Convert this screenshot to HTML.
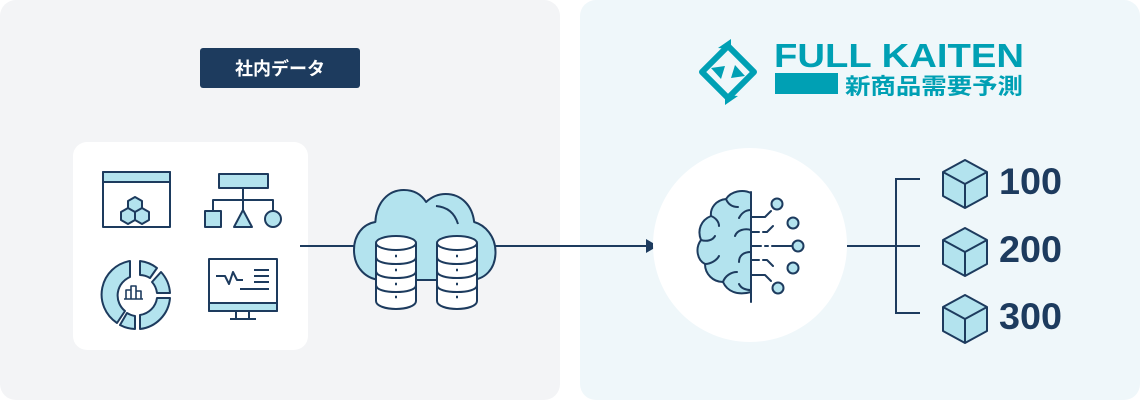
<!DOCTYPE html>
<html><head><meta charset="utf-8"><style>
html,body{margin:0;padding:0;background:#fff;}
svg{display:block}
text{font-family:"Liberation Sans","Noto Sans CJK JP",sans-serif;}
</style></head><body>
<svg width="1140" height="400" viewBox="0 0 1140 400" xmlns="http://www.w3.org/2000/svg">
<rect x="0" y="0" width="560" height="400" rx="16" fill="#f3f4f6"/>
<rect x="580" y="0" width="560" height="400" rx="16" fill="#eff7fa"/>
<rect x="200" y="48" width="160" height="40" rx="3" fill="#1d3b5e"/>
<text x="280" y="75" font-size="18" fill="#fff" text-anchor="middle" font-weight="bold">社内データ</text>
<rect x="73" y="142" width="235" height="208" rx="14" fill="#fff"/>
<g stroke="#1d3b5e" stroke-width="2" fill="#b3e3ee" stroke-linejoin="round">
 <rect x="103" y="172" width="67" height="55" fill="#fff"/>
 <rect x="103" y="172" width="67" height="10"/>
 <g fill="#b3e3ee"><path d="M128 201l7-4 7 4v8l-7 4-7-4z"/><path d="M121 212l7-4 7 4v8l-7 4-7-4z"/><path d="M135 212l7-4 7 4v8l-7 4-7-4z"/></g>
 <rect x="219" y="174" width="49" height="14"/>
 <path d="M243 188v12M213 211v-11h60v11M243 200v10" fill="none"/>
 <rect x="205" y="211" width="16" height="16"/>
 <path d="M243 210l-9 17h18z"/>
 <circle cx="273" cy="219" r="8"/>
 <path d="M130 261a34 34 0 0 0 -13 62l8-12a20 20 0 0 1 5-34z"/>
 <path d="M140 261a34 34 0 0 1 17 7l-7 10a20 20 0 0 0 -10-3z"/>
 <path d="M161 272a34 34 0 0 1 9 21h-13a20 20 0 0 0 -5-11z"/>
 <path d="M170 298a34 34 0 0 1 -30 31v-14a20 20 0 0 0 17-17z"/>
 <path d="M135 329a34 34 0 0 1 -15-4l7-12a20 20 0 0 0 8 3z"/>
 <path d="M126 299v-9h5v9M131 299v-13h5v13M136 299v-8h5v8M124 299h19" fill="none" stroke-width="1.6"/>
 <rect x="209" y="259" width="68" height="52" fill="#fff"/>
 <rect x="209" y="303" width="68" height="8"/>
 <path d="M236 311v8M249 311v8M230 319h26" fill="none"/>
 <path d="M216 276h9l4 8 4-12 4 8h6M254 270h15M254 276h15M254 282h15M240 289h29" fill="none"/>
</g>
<g stroke="#1d3b5e" stroke-width="2" fill="none">
 <line x1="300" y1="246" x2="354" y2="246"/>
 <line x1="495" y1="246" x2="648" y2="246"/>
</g>
<path d="M646 239l12 7-12 7z" fill="#1d3b5e"/>
<g stroke="#1d3b5e" stroke-width="2" stroke-linejoin="round">
 <path transform="translate(354,0) scale(0.89,1) translate(-354,0)" vector-effect="non-scaling-stroke" d="M386 280c-18 0-32-12-32-30 0-15 10-26 24-28 1-19 14-32 32-32 12 0 20 5 25 12 6-5 14-8 22-8 18 0 30 12 32 28 12 3 24 14 24 30 0 17-12 28-29 28z" fill="#b3e3ee"/>
 <path d="M436 206c12 1 19 8 22 18" fill="none"/>
 <g fill="#fff">
  <path d="M376 243v58c0 5 10 8 20 8s20-3 20-8v-58"/>
  <ellipse cx="396" cy="243" rx="20" ry="7"/>
  <path d="M376 257c0 5 10 7 20 7s20-2 20-7M376 271c0 5 10 7 20 7s20-2 20-7M376 285c0 5 10 7 20 7s20-2 20-7" fill="none"/>
  <path d="M437 243v58c0 5 10 8 20 8s20-3 20-8v-58"/>
  <ellipse cx="457" cy="243" rx="20" ry="7"/>
  <path d="M437 257c0 5 10 7 20 7s20-2 20-7M437 271c0 5 10 7 20 7s20-2 20-7M437 285c0 5 10 7 20 7s20-2 20-7" fill="none"/>
 </g>
 <g stroke-width="2.5"><path d="M395 256h2M395 270h2M395 284h2M395 297h2M456 256h2M456 270h2M456 284h2M456 297h2"/></g>
</g>
<g>
 <path d="M728 46l26 26-26 26-26-26z" fill="none" stroke="#00a0b4" stroke-width="6" stroke-linejoin="round"/>
 <path d="M711 68l14-2-4 13z" fill="#00a0b4"/>
 <path d="M745 76l-14 2 4-13z" fill="#00a0b4"/>
 <path d="M718 48l13-9 0 10z M738 96l-13 9 0-10z" fill="#00a0b4"/>
 <text x="774" y="67" font-size="33" font-weight="bold" fill="#00a0b4" textLength="250" lengthAdjust="spacingAndGlyphs">FULL KAITEN</text>
 <rect x="775" y="73" width="63" height="21" fill="#00a0b4"/>
 <text x="845" y="94" font-size="22" font-weight="bold" fill="#00a0b4" textLength="178" lengthAdjust="spacingAndGlyphs">新商品需要予測</text>
</g>
<circle cx="750" cy="245" r="97" fill="#fff"/>
<g stroke="#1d3b5e" stroke-width="2" stroke-linejoin="round" stroke-linecap="round">
 <path d="M751 193c-8-4-20-2-25 6-10 1-16 9-15 17-10 4-14 14-10 24-6 8-4 20 4 24 0 10 8 18 18 18 4 9 14 14 28 10z" fill="#b3e3ee"/>
 <g fill="none">
  <path d="M751 210c-6 0-10 4-12 8M726 199c2 5 6 8 12 8M711 216c5 2 8 6 8 10M751 230c-6-2-14 0-16 6M701 240c6 2 12 0 14-4M751 252c-8 0-12 4-12 10M705 264c6 0 12-4 14-8M723 282c2-6 8-10 14-10M751 290c-6 0-10-2-12-6"/>
  <line x1="751" y1="192" x2="751" y2="302"/>
  <path d="M751 217h14l6-6M751 232h8M763 232h4l6-6M751 246h10M765 246h3M772 246h20M751 260h8M763 260h4l6 6M751 275h14l6 6"/>
 </g>
 <g fill="#b3e3ee"><circle cx="777" cy="204" r="5.5"/><circle cx="793" cy="223" r="5.5"/><circle cx="798" cy="246" r="5.5"/><circle cx="793" cy="268" r="5.5"/><circle cx="778" cy="288" r="5.5"/></g>
</g>
<g stroke="#1d3b5e" stroke-width="2" fill="none">
 <path d="M847 246h73M920 179h-24v134h24"/>
</g>
<g stroke="#1d3b5e" stroke-width="2" stroke-linejoin="round">
 <g><path d="M943 172l22-12 22 12v24l-22 12-22-12z" fill="#b3e3ee"/><path d="M943 172l22 12 22-12M965 184v24" fill="none"/></g>
 <g transform="translate(0,68)"><path d="M943 172l22-12 22 12v24l-22 12-22-12z" fill="#b3e3ee"/><path d="M943 172l22 12 22-12M965 184v24" fill="none"/></g>
 <g transform="translate(0,135)"><path d="M943 172l22-12 22 12v24l-22 12-22-12z" fill="#b3e3ee"/><path d="M943 172l22 12 22-12M965 184v24" fill="none"/></g>
</g>
<g font-size="37" font-weight="bold" fill="#1d3b5e">
 <text x="999" y="194" textLength="63" lengthAdjust="spacingAndGlyphs">100</text>
 <text x="999" y="262" textLength="63" lengthAdjust="spacingAndGlyphs">200</text>
 <text x="999" y="329" textLength="63" lengthAdjust="spacingAndGlyphs">300</text>
</g>
</svg>
</body></html>
